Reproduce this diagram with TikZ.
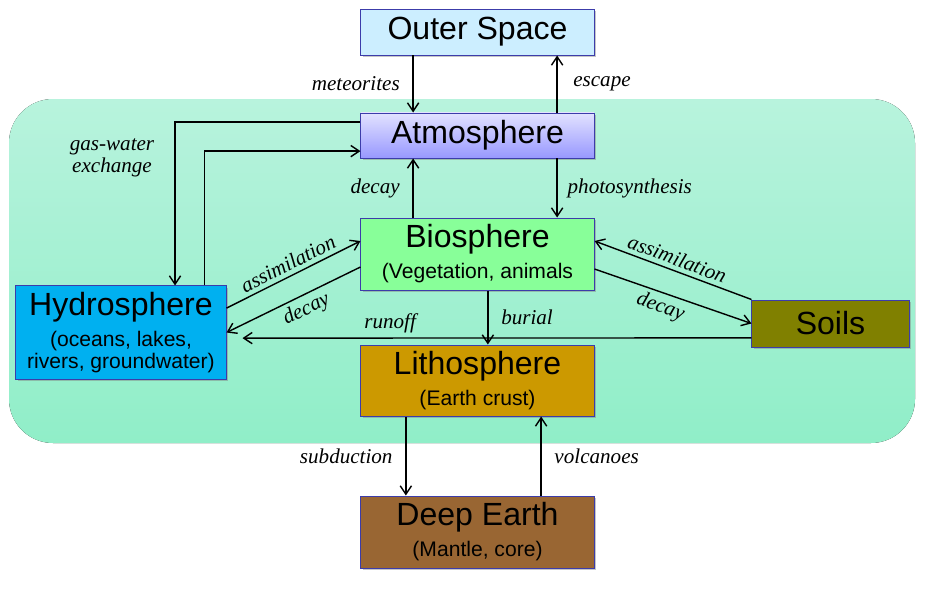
\documentclass[tikz,border=0pt]{standalone}
\usepackage{fontspec}
\setmainfont{Liberation Serif}
\setsansfont{Liberation Sans}
\usetikzlibrary{arrows.meta,shadows}
\definecolor{spacecol}{RGB}{204,238,255}
\definecolor{atmtop}{RGB}{226,226,255}
\definecolor{atmbot}{RGB}{152,152,255}
\definecolor{biocol}{RGB}{136,255,153}
\definecolor{hydrocol}{RGB}{0,176,240}
\definecolor{soilcol}{RGB}{128,128,0}
\definecolor{lithocol}{RGB}{204,153,0}
\definecolor{deepcol}{RGB}{153,102,51}
\definecolor{edgecol}{RGB}{60,60,170}
\definecolor{bgtop}{RGB}{184,243,221}
\definecolor{bgbot}{RGB}{144,238,200}
\newcommand{\subsize}{\fontsize{15}{16.5}\selectfont}
\begin{document}
\begin{tikzpicture}[x=0.025cm, y=-0.025cm, line width=1pt, >={Straight Barb[length=6pt,width=8pt]},
  box/.style = {draw=edgecol, line width=0.7pt, align=center, inner sep=0pt,
    font=\sffamily\fontsize{22.8}{24}\selectfont,
    drop shadow={shadow xshift=1.5pt, shadow yshift=-1.5pt, opacity=0.45}},
  lbl/.style = {font=\itshape\fontsize{15}{16}\selectfont, inner sep=3pt}]
	\useasboundingbox (0,0) rectangle (939,611);
	% background
	\fill[top color=bgtop, bottom color=bgbot, rounded corners=1.1cm] (9,99) rectangle (915,443);
	% boxes
	\node[box, fill=spacecol, minimum width=5.825cm, minimum height=1.15cm] (space) at (477.5,32) {Outer Space};
	\node[box, top color=atmtop, bottom color=atmbot, minimum width=5.825cm, minimum height=1.125cm] (atmos) at (477.5,135.5) {Atmosphere};
	\node[box, fill=biocol, minimum width=5.825cm, minimum height=1.8cm] (bio) at (477.5,254) {Biosphere\\[-2pt]\subsize (Vegetation, animals};
	\node[box, fill=hydrocol, minimum width=5.25cm, minimum height=2.325cm] (hydro) at (121,332.5) {Hydrosphere\\[-2pt]\subsize (oceans, lakes,\\[-8pt]\subsize rivers, groundwater)};
	\node[box, fill=soilcol, minimum width=3.925cm, minimum height=1.175cm] (soils) at (830.5,323.5) {Soils};
	\node[box, fill=lithocol, minimum width=5.825cm, minimum height=1.775cm] (litho) at (477.5,380.5) {Lithosphere\\[-2pt]\subsize (Earth crust)};
	\node[box, fill=deepcol, minimum width=5.825cm, minimum height=1.8cm] (deep) at (477.5,532) {Deep Earth\\[-2pt]\subsize (Mantle, core)};
	% vertical links
	\draw[->] ([xshift=-1.61cm]space.south) -- node[lbl, left=6pt] {meteorites} ([xshift=-1.61cm]atmos.north);
	\draw[->] ([xshift=1.99cm]atmos.north) -- node[lbl, right=8pt] {escape} ([xshift=1.99cm]space.south);
	\draw[->] ([xshift=-1.61cm]bio.north) -- node[lbl, left=6pt] {decay} ([xshift=-1.61cm]atmos.south);
	\draw[->] ([xshift=1.99cm]atmos.south) -- node[lbl, right=4pt] {photosynthesis} ([xshift=1.99cm]bio.north);
	\draw[->] ([xshift=0.26cm]bio.south) -- node[lbl, right=6pt] {burial} ([xshift=0.26cm]litho.north);
	\draw[->] ([xshift=-1.79cm]litho.south) -- node[lbl, left=6pt] {subduction} ([xshift=-1.79cm]deep.north);
	\draw[->] ([xshift=1.59cm]deep.north) -- node[lbl, right=6pt] {volcanoes} ([xshift=1.59cm]litho.south);
	% gas-water exchange
	\draw[->] ([yshift=0.34cm]atmos.west) -| ([xshift=1.35cm]hydro.north);
	\draw[->] ([xshift=2.08cm]hydro.north) |- ([yshift=-0.39cm]atmos.west);
	\node[lbl, align=center] (gasw) at (112,158) {gas-water\\exchange};
	% sloped links
	\draw[->] ([yshift=0.61cm]hydro.east) -- node[lbl, sloped, above, pos=0.5] {assimilation} ([yshift=0.325cm]bio.west);
	\draw[->] ([yshift=-0.325cm]bio.west) -- node[lbl, sloped, below, pos=0.45] {decay} (hydro.east);
	\draw[->] (soils.north west) -- node[lbl, sloped, above, pos=0.5] {assimilation} ([yshift=0.325cm]bio.east);
	\draw[->] ([yshift=-0.375cm]bio.east) -- node[lbl, sloped, below, pos=0.45] {decay} (soils.west);
	\draw[->] ([yshift=-0.36cm]soils.west) -- node[lbl, above, pos=0.71] {runoff} ([shift={(0.4cm,-0.14cm)}]hydro.east);
\end{tikzpicture}
\end{document}
